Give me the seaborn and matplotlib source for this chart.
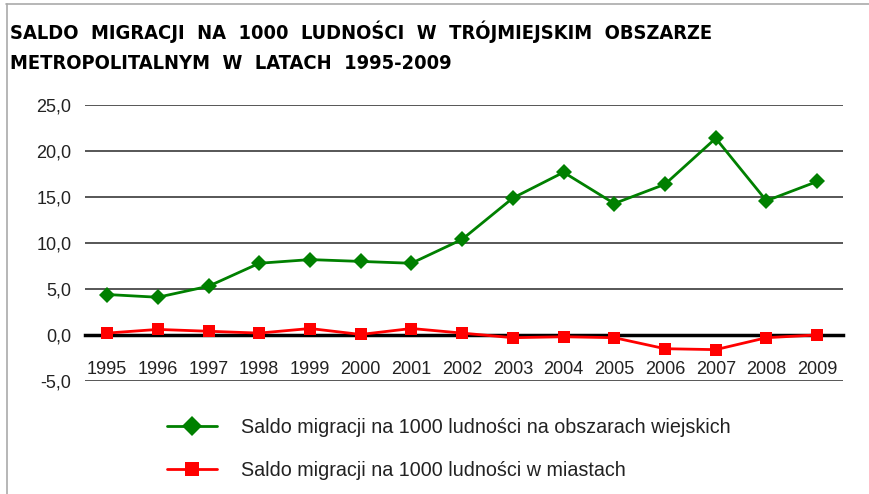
import matplotlib
matplotlib.use("Agg")
import matplotlib.pyplot as plt
import seaborn as sns
import pandas as pd
from matplotlib import font_manager

years = [1995, 1996, 1997, 1998, 1999, 2000, 2001, 2002, 2003, 2004, 2005, 2006, 2007, 2008, 2009]
rural = [4.4, 4.1, 5.3, 7.8, 8.2, 8.0, 7.8, 10.4, 14.9, 17.7, 14.3, 16.4, 21.4, 14.6, 16.7]
urban = [0.2, 0.6, 0.4, 0.2, 0.7, 0.05, 0.7, 0.2, -0.3, -0.2, -0.3, -1.5, -1.6, -0.3, 0.0]
label_rural = "Saldo migracji na 1000 ludności na obszarach wiejskich"
label_urban = "Saldo migracji na 1000 ludności w miastach"
title_lines = ["SALDO  MIGRACJI  NA  1000  LUDNOŚCI  W  TRÓJMIEJSKIM  OBSZARZE",
               "METROPOLITALNYM  W  LATACH  1995-2009"]
yticks = [-5, 0, 5, 10, 15, 20, 25]

df = pd.DataFrame({"year": years * 2,
                   "value": rural + urban,
                   "series": [label_rural] * len(years) + [label_urban] * len(years)})

sns.set_style("white")
plt.rcParams['font.family'] = ['Liberation Sans', 'DejaVu Sans']

fig = plt.figure(figsize=(8.7, 4.94), dpi=100)
ax = fig.add_axes([0.098, 0.229, 0.871, 0.558])

for yv in yticks:
    if yv != 0:
        ax.axhline(yv, color='#3a3a3a', lw=1.2, zorder=1)

sns.lineplot(data=df, x="year", y="value", hue="series", style="series",
             palette={label_rural: '#008000', label_urban: '#FF0000'},
             markers={label_rural: 'D', label_urban: 's'}, dashes=False,
             markersize=8, markeredgewidth=0, linewidth=2, ax=ax, zorder=3)

for s in ['left', 'right', 'top']:
    ax.spines[s].set_visible(False)
ax.spines['bottom'].set_position(('data', 0))
ax.spines['bottom'].set_color('black')
ax.spines['bottom'].set_linewidth(2.5)
ax.spines['bottom'].set_zorder(2)

ax.set_xlim(1994.57, 2009.51)
ax.set_ylim(-5, 25)
ax.set_yticks(yticks)
ax.set_yticklabels([f"{v:.1f}".replace('.', ',') for v in yticks], fontsize=13, color='#222222')
ax.set_xticks(years)
ax.set_xticklabels([str(y) for y in years], fontsize=13, color='#222222')
ax.tick_params(axis='x', length=0, pad=19)
ax.tick_params(axis='y', length=0, pad=10)
ax.set_xlabel("")
ax.set_ylabel("")

handles, labels = ax.get_legend_handles_labels()
ax.get_legend().remove()
for h in handles:
    h.set_markersize(10)
fig.legend(handles, labels, loc='upper left', bbox_to_anchor=(0.172, 0.19),
           frameon=False, fontsize=14.2, handlelength=2.5, labelspacing=1.2,
           handletextpad=1.25, labelcolor='#222222')

# pick a narrow bold font if available
names = {(f.name, f.stretch) for f in font_manager.fontManager.ttflist}
font_kw = dict(family=['Liberation Sans', 'DejaVu Sans'])
if any(n == 'Liberation Sans Narrow' for n, _ in names):
    font_kw = dict(family=['Liberation Sans Narrow', 'DejaVu Sans'])
elif ('DejaVu Sans', 'condensed') in names or ('DejaVu Sans', 'semi-condensed') in names:
    font_kw = dict(family=['DejaVu Sans'], fontstretch='condensed')

renderer = fig.canvas.get_renderer()
t1 = fig.text(0.012, 0.958, title_lines[0], fontsize=16, fontweight='bold', va='top',
              ha='left', color='black', **font_kw)
w = t1.get_window_extent(renderer).width
size = 16 * 705.0 / w
t1.set_fontsize(size)
fig.text(0.012, 0.89, title_lines[1], fontsize=size, fontweight='bold', va='top',
         ha='left', color='black', **font_kw)

fig.add_artist(plt.Line2D([0.007, 1.0], [0.991, 0.991], transform=fig.transFigure, color='#aaaaaa', lw=1.2))
fig.add_artist(plt.Line2D([0.008, 0.008], [0.0, 0.991], transform=fig.transFigure, color='#aaaaaa', lw=1.2))

fig.savefig("out.png", dpi=100)
